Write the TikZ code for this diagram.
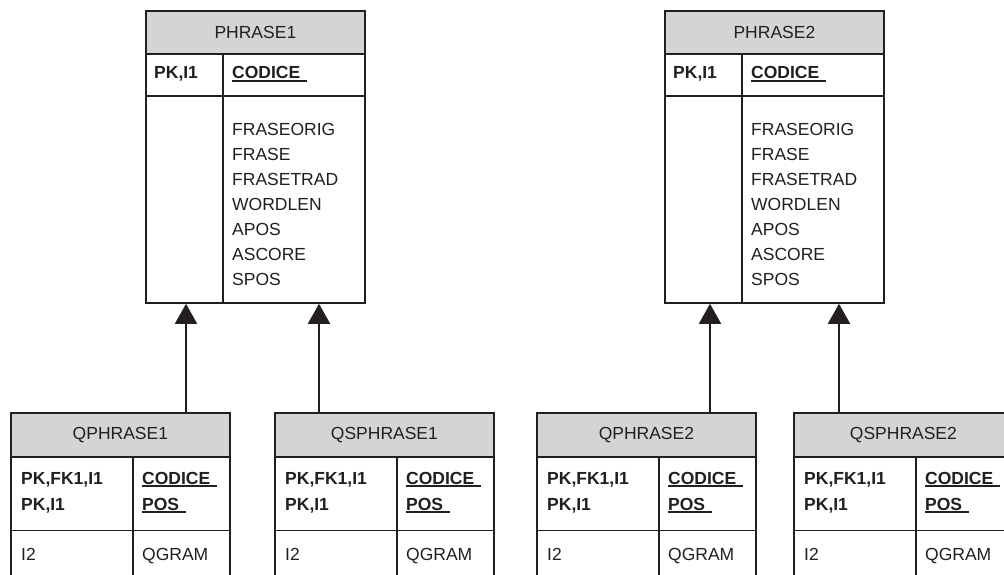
\documentclass[tikz,border=0pt]{standalone}
\usepackage{fontspec}
\setmainfont{Liberation Sans}
\usetikzlibrary{arrows.meta,calc}
\definecolor{ink}{RGB}{35,31,32}
\definecolor{hdr}{RGB}{211,212,214}
\newcommand\hfont{\fontsize{17.5}{21}\selectfont}
\newcommand\bkfont{\fontsize{17.5}{21}\selectfont\bfseries}
\newcommand\ulw[1]{\sbox0{#1\hspace{7pt}}\rlap{\rule[-2.9pt]{\wd0}{1.7pt}}\usebox0}
\tikzset{
  tline/.style={draw=ink, line width=1.8pt},
  tbox/.style={draw=ink, line width=1.8pt, inner sep=0pt},
  thead/.style={fill=hdr, draw=ink, line width=1.8pt, text=ink, font=\hfont, inner sep=0pt},
  ttext/.style={text=ink, font=\hfont, inner sep=0pt, anchor=base west},
  tkey/.style={text=ink, font=\bkfont, inner sep=0pt, anchor=base west},
  arr/.style={draw=ink, line width=1.8pt, -{Triangle[width=22pt,length=20pt]}},
}
% #1 name, #2 left x, #3 title
\newcommand\TopTable[3]{%
  \node[thead, minimum width=219pt, minimum height=43pt, anchor=north west] (#1h) at (#2,10) {#3};
  \node[tbox, minimum width=219pt, minimum height=292pt, anchor=north west] (#1) at (#2,10) {};
  \draw[tline] (#2,96) -- ++(219,0);
  \draw[tline] ({#2+78},53) -- ++(0,249);
  \node[tkey] (#1k) at ({#2+9},79) {PK,I1};
  \node[tkey] (#1c) at ({#2+87},79) {\ulw{CODICE}};
  \node[ttext] (#1f1) at ({#2+87},135.5) {FRASEORIG};
  \node[ttext] (#1f2) at ({#2+87},160.5) {FRASE};
  \node[ttext] (#1f3) at ({#2+87},185.5) {FRASETRAD};
  \node[ttext] (#1f4) at ({#2+87},210.5) {WORDLEN};
  \node[ttext] (#1f5) at ({#2+87},235.5) {APOS};
  \node[ttext] (#1f6) at ({#2+87},260.5) {ASCORE};
  \node[ttext] (#1f7) at ({#2+87},285.5) {SPOS};
}
% #1 name, #2 left x, #3 title
\newcommand\BotTable[3]{%
  \node[thead, minimum width=219pt, minimum height=44pt, anchor=north west] (#1h) at (#2,412) {#3};
  \node[tbox, minimum width=219pt, minimum height=220pt, anchor=north west] (#1) at (#2,412) {};
  \draw[tline] (#2,530.5) -- ++(219,0);
  \draw[tline] ({#2+123},456) -- ++(0,180);
  \node[tkey] (#1k1) at ({#2+11},484) {PK,FK1,I1};
  \node[tkey] (#1k2) at ({#2+11},510) {PK,I1};
  \node[tkey] (#1c1) at ({#2+132},484) {\ulw{CODICE}};
  \node[tkey] (#1c2) at ({#2+132},510) {\ulw{POS}};
  \node[ttext] (#1i) at ({#2+11},560.5) {I2};
  \node[ttext] (#1q) at ({#2+132},560.5) {QGRAM};
}
\begin{document}
\begin{tikzpicture}[x=1pt,y=-1pt]
  \clip (0,0) rectangle (1004,575);
  \fill[white] (0,0) rectangle (1004,575);
  \TopTable{pa}{145}{PHRASE1}
  \TopTable{pb}{664}{PHRASE2}
  \BotTable{qa}{10}{QPHRASE1}
  \BotTable{sa}{274}{QSPHRASE1}
  \BotTable{qb}{536}{QPHRASE2}
  \BotTable{sb}{793}{QSPHRASE2}
  \coordinate (x1) at (186,0);
  \coordinate (x2) at (319,0);
  \coordinate (x3) at (710,0);
  \coordinate (x4) at (839,0);
  \draw[arr] (qah.north -| x1) -- (pa.south -| x1);
  \draw[arr] (sah.north -| x2) -- (pa.south -| x2);
  \draw[arr] (qbh.north -| x3) -- (pb.south -| x3);
  \draw[arr] (sbh.north -| x4) -- (pb.south -| x4);
\end{tikzpicture}
\end{document}
